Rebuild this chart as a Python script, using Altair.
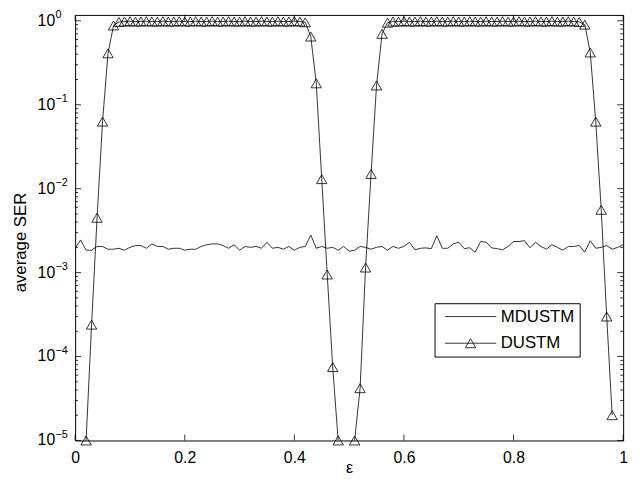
import altair as alt
import pandas as pd

FONT = "Liberation Sans"

# ---------------- data ----------------
MDUSTM_X = [0.00, 0.01, 0.02, 0.03, 0.04, 0.05, 0.06, 0.07, 0.08, 0.09,
            0.10, 0.11, 0.12, 0.13, 0.14, 0.15, 0.16, 0.17, 0.18, 0.19,
            0.20, 0.21, 0.22, 0.23, 0.24, 0.25, 0.26, 0.27, 0.28, 0.29,
            0.30, 0.31, 0.32, 0.33, 0.34, 0.35, 0.36, 0.37, 0.38, 0.39,
            0.40, 0.41, 0.42, 0.43, 0.44, 0.45, 0.46, 0.47, 0.48, 0.49,
            0.50, 0.51, 0.52, 0.53, 0.54, 0.55, 0.56, 0.57, 0.58, 0.59,
            0.60, 0.61, 0.62, 0.63, 0.64, 0.65, 0.66, 0.67, 0.68, 0.69,
            0.70, 0.71, 0.72, 0.73, 0.74, 0.75, 0.76, 0.77, 0.78, 0.79,
            0.80, 0.81, 0.82, 0.83, 0.84, 0.85, 0.86, 0.87, 0.88, 0.89,
            0.90, 0.91, 0.92, 0.93, 0.94, 0.95, 0.96, 0.97, 0.98, 0.99,
            1.00]
# average SER of MDUSTM, in units of 1e-3
MDUSTM_SER_E3 = [1.95, 2.45, 1.85, 1.85, 2.05, 2.05, 1.90, 1.90, 1.95, 1.85,
                 2.00, 2.10, 2.10, 1.95, 2.20, 2.05, 2.05, 1.90, 1.95, 1.95,
                 1.85, 1.90, 1.90, 2.05, 2.15, 2.20, 2.20, 2.10, 1.95, 2.15,
                 1.85, 2.05, 2.00, 2.05, 1.95, 2.30, 1.95, 2.00, 1.90, 2.05,
                 1.85, 2.00, 2.05, 2.80, 1.95, 2.05, 1.95, 2.00, 1.85, 2.05,
                 1.80, 1.85, 2.05, 2.00, 1.90, 2.00, 2.05, 1.85, 2.05, 1.95,
                 2.05, 2.30, 1.87, 1.95, 1.97, 1.93, 2.75, 1.95, 1.95, 2.20,
                 2.30, 1.93, 1.98, 1.75, 2.35, 2.30, 1.97, 1.93, 1.87, 2.05,
                 2.35, 2.35, 2.40, 1.98, 2.30, 2.05, 1.90, 2.15, 2.00, 1.85,
                 2.05, 2.05, 2.10, 1.75, 2.40, 1.95, 2.00, 2.10, 1.90, 2.00,
                 2.15]

DUSTM_A_X = [0.02, 0.03, 0.04, 0.05, 0.06, 0.07, 0.08, 0.09,
             0.10, 0.11, 0.12, 0.13, 0.14, 0.15, 0.16, 0.17, 0.18, 0.19,
             0.20, 0.21, 0.22, 0.23, 0.24, 0.25, 0.26, 0.27, 0.28, 0.29,
             0.30, 0.31, 0.32, 0.33, 0.34, 0.35, 0.36, 0.37, 0.38, 0.39,
             0.40, 0.41, 0.42, 0.43, 0.44, 0.45, 0.46, 0.47, 0.48]
DUSTM_A_SER = [1.0e-5, 2.4e-4, 4.5e-3, 0.063, 0.41, 0.88, 0.97, 0.98,
               0.99, 0.98, 0.98, 0.99, 0.98, 0.98, 0.99, 0.98, 0.98, 0.99,
               0.98, 0.98, 0.99, 0.98, 0.98, 0.99, 0.98, 0.98, 0.99, 0.98,
               0.98, 0.99, 0.98, 0.98, 0.99, 0.98, 0.98, 0.99, 0.98, 0.98,
               0.99, 0.98, 0.96, 0.65, 0.18, 0.013, 9.5e-4, 7.5e-5, 1.0e-5]

DUSTM_B_X = [0.51, 0.52, 0.53, 0.54, 0.55, 0.56, 0.57, 0.58, 0.59,
             0.60, 0.61, 0.62, 0.63, 0.64, 0.65, 0.66, 0.67, 0.68, 0.69,
             0.70, 0.71, 0.72, 0.73, 0.74, 0.75, 0.76, 0.77, 0.78, 0.79,
             0.80, 0.81, 0.82, 0.83, 0.84, 0.85, 0.86, 0.87, 0.88, 0.89,
             0.90, 0.91, 0.92, 0.93, 0.94, 0.95, 0.96, 0.97, 0.98]
DUSTM_B_SER = [1.0e-5, 4.2e-5, 1.15e-3, 0.015, 0.17, 0.70, 0.95, 0.98, 0.98,
               0.99, 0.98, 0.98, 0.99, 0.98, 0.98, 0.99, 0.98, 0.98, 0.99,
               0.98, 0.98, 0.99, 0.98, 0.98, 0.99, 0.98, 0.98, 0.99, 0.98,
               0.98, 0.99, 0.98, 0.98, 0.99, 0.98, 0.98, 0.99, 0.98, 0.98,
               0.99, 0.98, 0.97, 0.90, 0.42, 0.063, 5.6e-3, 3.0e-4, 2.0e-5]

SERIES = ["MDUSTM", "DUSTM"]
X_TICKS = [0, 0.2, 0.4, 0.6, 0.8, 1]
Y_DECADES = [1e-5, 1e-4, 1e-3, 1e-2, 1e-1, 1]
Y_EXPONENTS = ["\u22125", "\u22124", "\u22123", "\u22122", "\u22121", "0"]

# ---------------- tables ----------------
df_m = pd.DataFrame({"eps": MDUSTM_X, "ser": [v * 1e-3 for v in MDUSTM_SER_E3]})
df_d = pd.concat([
    pd.DataFrame({"eps": DUSTM_A_X, "ser": DUSTM_A_SER, "seg": "a"}),
    pd.DataFrame({"eps": DUSTM_B_X, "ser": DUSTM_B_SER, "seg": "b"}),
])
df_xt = pd.DataFrame({"eps": X_TICKS})
df_yt = pd.DataFrame({"ser": Y_DECADES, "base": ["10"] * len(Y_DECADES), "exp": Y_EXPONENTS})
df_ym = pd.DataFrame({"ser": [m * d for d in Y_DECADES[:-1] for m in range(2, 10)]})
df_leg = pd.DataFrame({"series": SERIES})

W, H = 555, 431
xs = alt.Scale(domain=[0, 1], nice=False, zero=False)
ys = alt.Scale(type="log", domain=[1e-5, 1.176], nice=False)

x_axis = alt.Axis(values=X_TICKS, format="~g", ticks=False, domain=False, grid=False,
                  labelFont=FONT, labelFontSize=16, labelColor="black", labelPadding=9,
                  labelFlush=False, labelOverlap=False,
                  title="\u03b5", titleFont=FONT, titleFontSize=16, titleFontWeight="normal",
                  titleColor="black", titleY=27, titleBaseline="middle")
y_axis = alt.Axis(labels=False, ticks=False, domain=False, grid=False,
                  title="average SER", titleFont=FONT, titleFontSize=17,
                  titleFontWeight="normal", titleColor="black",
                  titleX=-55, titleY=230, titleAlign="center", titleBaseline="middle")

X = lambda: alt.X("eps:Q", scale=xs, axis=x_axis)
Y = lambda: alt.Y("ser:Q", scale=ys, axis=y_axis)

LW = 0.8

m_line = alt.Chart(df_m).mark_line(color="black", strokeWidth=LW).encode(x=X(), y=Y())
d_line = alt.Chart(df_d).mark_line(color="black", strokeWidth=LW).encode(
    x=X(), y=Y(), detail="seg:N")
d_pts = alt.Chart(df_d).mark_point(shape="triangle-up", filled=False, color="black",
                                    strokeWidth=LW, size=110, opacity=1).encode(x=X(), y=Y())

# inward ticks on all four sides (Matlab box style)
tick_style = dict(color="black", strokeWidth=LW)
xt_bottom = alt.Chart(df_xt).mark_rule(**tick_style).encode(
    x=X(), y=alt.value(H), y2=alt.value(H - 6))
xt_top = alt.Chart(df_xt).mark_rule(**tick_style).encode(
    x=X(), y=alt.value(0), y2=alt.value(6))
yt_left = alt.Chart(df_yt).mark_rule(**tick_style).encode(
    y=Y(), x=alt.value(0), x2=alt.value(6))
yt_right = alt.Chart(df_yt).mark_rule(**tick_style).encode(
    y=Y(), x=alt.value(W), x2=alt.value(W - 6))
ym_left = alt.Chart(df_ym).mark_rule(**tick_style).encode(
    y=Y(), x=alt.value(0), x2=alt.value(3))
ym_right = alt.Chart(df_ym).mark_rule(**tick_style).encode(
    y=Y(), x=alt.value(W), x2=alt.value(W - 3))

# y tick labels 10^k with real superscripts
y_base = alt.Chart(df_yt).mark_text(align="left", baseline="middle", font=FONT,
                                    fontSize=16, color="black").encode(
    y=Y(), x=alt.value(-38), text="base:N")
y_exp = alt.Chart(df_yt).mark_text(align="left", baseline="middle", font=FONT,
                                   fontSize=11, color="black", dy=-6).encode(
    y=Y(), x=alt.value(-20), text="exp:N")

# legend (library legend with custom symbols: plain line, and line with triangle)
SYM_LINE = "M-1,0L1,0"
SYM_TRI = "M-1,0L1,0M-0.2,0.175L0,-0.175L0.2,0.175Z"
legend_layer = alt.Chart(df_leg).mark_point(filled=False, color="black", strokeWidth=LW).encode(
    shape=alt.Shape("series:N",
                    scale=alt.Scale(domain=SERIES, range=[SYM_LINE, SYM_TRI]),
                    legend=alt.Legend(title=None, orient="none", legendX=364, legendY=292,
                                      strokeColor="black", fillColor="white", padding=5,
                                      symbolOffset=5, symbolSize=2704, symbolStrokeWidth=LW,
                                      symbolStrokeColor="black", symbolFillColor="transparent",
                                      symbolOpacity=1, clipHeight=17, rowPadding=9,
                                      labelOffset=4, labelFont=FONT, labelFontSize=17,
                                      labelColor="black", cornerRadius=0)),
    opacity=alt.value(0),
)

chart = alt.layer(
    m_line, d_line, d_pts,
    xt_bottom, xt_top, yt_left, yt_right, ym_left, ym_right,
    y_base, y_exp, legend_layer,
).properties(
    width=W, height=H,
    autosize=alt.AutoSizeParams(type="none"),
    padding={"left": 68, "top": 4, "right": 11, "bottom": 36},
    background="white",
).configure_view(stroke="black", strokeWidth=1)

chart.save("out.html", embed_options={"renderer": "svg", "actions": False})
